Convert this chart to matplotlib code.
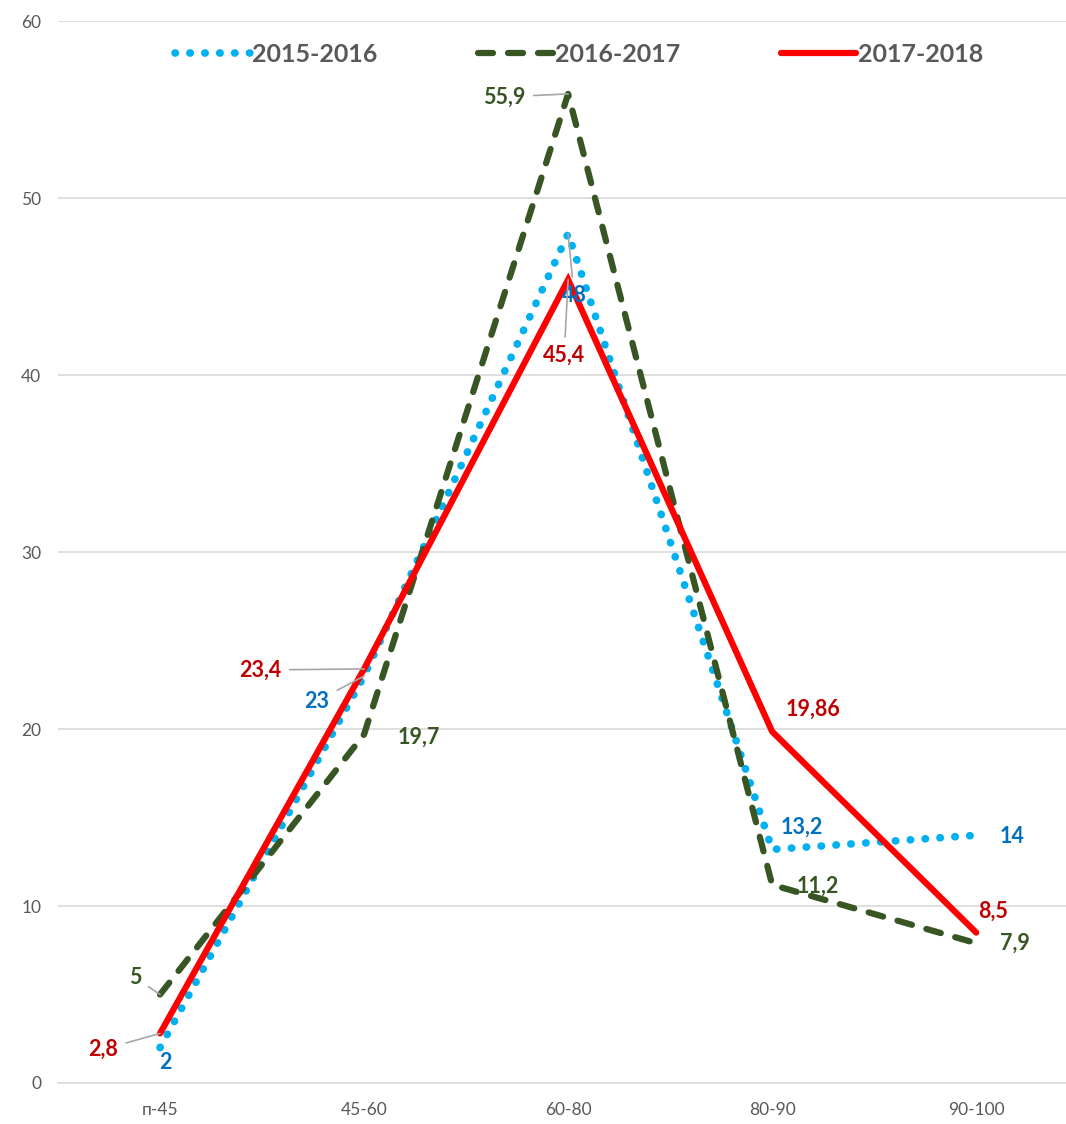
import matplotlib
matplotlib.use("Agg")
import matplotlib.pyplot as plt

categories = ["п-45", "45-60", "60-80", "80-90", "90-100"]
s2015 = [2, 23, 48, 13.2, 14]
s2016 = [5, 19.7, 55.9, 11.2, 7.9]
s2017 = [2.8, 23.4, 45.4, 19.86, 8.5]
names = ["2015-2016", "2016-2017", "2017-2018"]

# label offsets in pixels from the point, and whether a leader line is drawn
off2015 = [(5, -15, False), (-47, -25, True), (6, -62, True), (30, 22, False), (36, -1, False)]
off2016 = [(-25, 17, True), (55, -3, False), (-64, -3, True), (46, -1, False), (39, 0, False)]
off2017 = [(-57, -16, True), (-104, -1, True), (-4, -76, True), (41, 22, False), (17, 21, False)]

plt.rcParams["font.family"] = ["Lato", "DejaVu Sans"]

fig = plt.figure(figsize=(10.66, 11.24), dpi=100)
ax = fig.add_axes([0.0544, 0.0365, 0.9456, 0.9445])

x = range(len(categories))
ax.plot(x, s2015, color="#00B0F0", lw=5.5, linestyle=(0, (0.05, 1.9)),
        dash_capstyle="round", label=names[0], zorder=3)
ax.plot(x, s2016, color="#375623", lw=4.5, linestyle=(0, (2.4, 2.4)),
        dash_capstyle="round", label=names[1], zorder=4)
ax.plot(x, s2017, color="#FF0000", lw=4.5, solid_capstyle="round",
        solid_joinstyle="miter", label=names[2], zorder=5)

def labels(vals, offs, color):
    for i, (v, (dx, dy, lead)) in enumerate(zip(vals, offs)):
        txt = ("%g" % v).replace(".", ",")
        kw = {}
        if lead:
            kw["arrowprops"] = dict(arrowstyle="-", color="#A6A6A6", lw=1.2,
                                    shrinkA=4, shrinkB=0)
        ax.annotate(txt, (i, v), xytext=(dx, dy), textcoords="offset pixels",
                    ha="center", va="center", color=color, fontsize=15.5,
                    fontweight="bold", zorder=6, **kw)

labels(s2015, off2015, "#0070C0")
labels(s2016, off2016, "#375623")
labels(s2017, off2017, "#C00000")

ax.set_ylim(0, 60)
ax.set_yticks(range(0, 61, 10))
ax.set_xlim(-0.5, 4.44)
ax.set_xticks(list(x))
ax.set_xticklabels(categories)
ax.grid(axis="y", color="#D9D9D9", lw=1.2)
ax.set_axisbelow(True)
for s in ["top", "right", "left"]:
    ax.spines[s].set_visible(False)
ax.spines["bottom"].set_color("#D9D9D9")
ax.spines["bottom"].set_linewidth(1.2)
ax.tick_params(length=0, colors="#595959", labelsize=12.5)
ax.tick_params(axis="x", pad=14)
ax.tick_params(axis="y", pad=12)

leg = ax.legend(loc="upper center", bbox_to_anchor=(0.517, 1.001), ncol=3,
                frameon=False, handlelength=3.0, handletextpad=0.1,
                columnspacing=4.0, prop={"weight": "bold", "size": 18})
for t in leg.get_texts():
    t.set_color("#595959")

fig.savefig("out.png", dpi=100)
